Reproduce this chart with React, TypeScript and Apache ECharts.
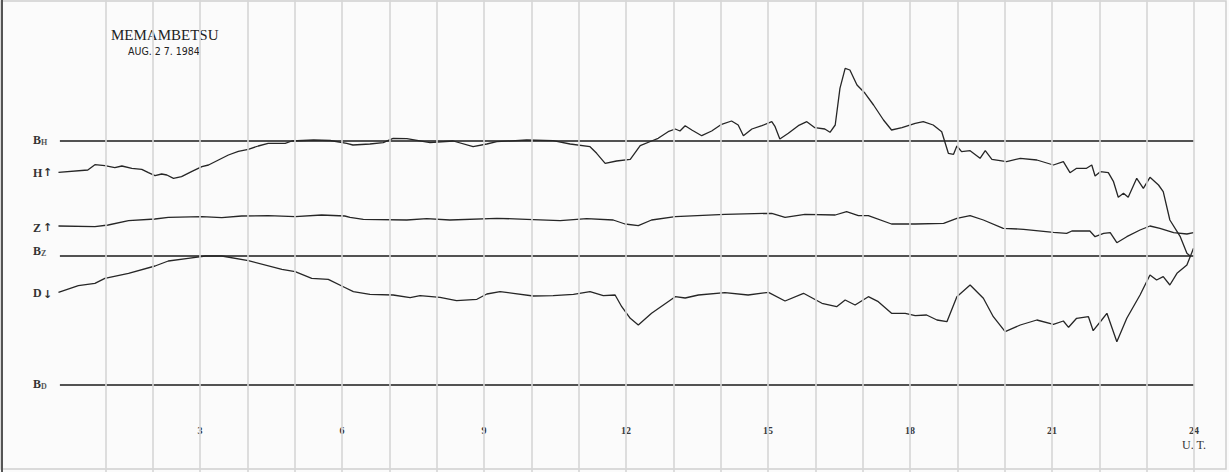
import React, { useEffect, useRef } from "react";
import * as echarts from "echarts";

// Hours (UT) and deflections (chart units, positive = upward, relative to each trace's baseline)
const hH = [0.01,0.63,0.78,0.99,1.2,1.35,1.56,1.77,1.91,2.05,2.19,2.3,2.44,2.61,2.82,3.04,3.18,3.39,3.6,3.81,4.02,4.23,4.44,4.8,4.94,5.4,5.75,6.1,6.23,6.59,6.87,7.08,7.37,7.86,8.35,8.77,9.06,9.27,9.9,10.46,10.82,11.24,11.38,11.56,11.8,12.09,12.3,12.54,12.68,12.89,13.04,13.14,13.25,13.39,13.6,13.81,14.02,14.23,14.37,14.48,14.66,14.87,15.08,15.15,15.25,15.43,15.64,15.82,15.99,16.2,16.31,16.42,16.52,16.63,16.73,16.88,17.05,17.23,17.44,17.61,17.83,18.11,18.28,18.49,18.67,18.81,18.92,18.99,19.09,19.27,19.48,19.59,19.73,20.04,20.33,20.68,21.03,21.24,21.38,21.52,21.73,21.84,21.91,22.02,22.19,22.3,22.4,22.51,22.61,22.79,22.93,23.07,23.25,23.35,23.49,23.71,23.85,23.92];
const vH = [-31.3,-29,-23.7,-24.7,-26.7,-25,-27.3,-28.3,-31.7,-34.7,-33,-34,-37.3,-35.7,-30.7,-25.7,-24,-19,-14,-10.3,-8.3,-5,-2.3,-2.3,0,1,0.5,-2.3,-4,-3,-1.7,2.7,2.3,-1.7,0,-5.7,-3,-0.7,1,0.3,-3,-5.7,-12.3,-22.3,-20,-18.3,-4.7,0,2.7,9.3,12,10,15.3,11,5.3,10,16.7,20,16,5.3,12,15.3,19.3,14.3,2,7.7,15.3,19.3,13.3,12,8.7,16,52.7,72.7,71,56,47.7,36,21,11,13.3,17.7,19.3,16,9.3,-12.3,-13.3,-5,-10.7,-9.7,-17.3,-9.7,-18.3,-20.7,-17.3,-19,-24,-20.7,-31.7,-27.3,-27.3,-24,-35,-30.7,-31.7,-40.7,-56.3,-52.3,-56.3,-37.3,-47.3,-36.3,-44,-50.7,-79,-95.7,-112.3,-115];

const hZ = [0.01,0.78,1.06,1.49,2.05,2.33,3.04,3.46,3.88,4.44,5.01,5.57,6.06,6.17,6.45,7.37,7.79,8.28,9.27,9.9,10.61,11.17,11.73,11.98,12.26,12.54,13.04,14.09,15.08,15.36,15.78,16.42,16.66,16.91,17.12,17.61,18.11,18.71,18.99,19.27,19.55,19.97,20.4,21.03,21.31,21.42,21.8,21.91,22.09,22.23,22.37,22.58,22.86,23.07,23.28,23.57,23.85,23.99];
const vZ = [30,29.3,31,35.3,37,38.7,39.3,38.3,40,40.3,39.3,41,40,38.7,36.7,36,37.3,36,37.7,36.7,35.3,37.3,36,32,30.3,36,39.3,41.7,42.7,38.7,41.7,41,44.3,40.3,40.3,32,32,32.7,37.7,40.3,36,27.7,26.7,23.7,22.7,25,25,19.3,22.7,23.3,13.3,19.3,26,30,27.7,23.3,22,23.3];

const hD = [0.01,0.43,0.78,0.99,1.49,2.05,2.33,2.75,3.11,3.46,4.02,4.73,5.01,5.36,5.71,6.06,6.24,6.59,7.08,7.44,7.65,8.07,8.42,8.85,9.06,9.34,9.62,10.04,10.46,10.89,11.24,11.52,11.77,11.91,12.09,12.26,12.54,13.04,13.25,13.53,14.09,14.58,15.01,15.36,15.75,16.14,16.45,16.63,16.84,17.12,17.33,17.61,17.9,18.11,18.35,18.57,18.78,18.99,19.27,19.55,19.76,20.01,20.33,20.68,21.03,21.24,21.35,21.52,21.77,21.87,22.05,22.16,22.37,22.58,22.86,23.07,23.21,23.35,23.49,23.64,23.85,23.99];
const vD = [92.7,99.3,101.7,106.7,111.7,119,124,126.7,129,129,124.3,115.7,113.3,106.7,105.7,97.5,93.3,90.7,90,87.3,89.3,87.7,84.3,85.7,91,93.3,91.7,89,89.3,90.7,93.3,89.3,90,78.3,66.7,60,71.7,88.3,87,90,92.3,90,92.7,84,91.7,81.7,78.3,85,80,88.3,83.3,71.7,71.7,69.3,70,65,63.3,88.3,100,86.7,68.3,53.3,60,65,60.7,64,57.7,66.7,68.3,54.3,65,71.7,43.3,66.7,90,110,105,108.3,100,111.7,120,136.7];

// Baseline levels (chart units from the bottom of the sheet)
const baseH = 331;
const baseZ = 216;
const baseD = 87;
const hourTicks = [3, 6, 9, 12, 15, 18, 21, 24];
const hourLines = [1,2,3,4,5,6,7,8,9,10,11,12,13,14,15,16,17,18,19,20,21,22,23,24];

export default function App() {
  const ref = useRef<HTMLDivElement>(null);
  useEffect(() => {
    document.body.style.margin = "0";
    const chart = echarts.init(ref.current!, null, { renderer: "svg" });
    const trace = (hs: number[], vs: number[], base: number) =>
      hs.map((h, i) => [h, base + vs[i]]);
    const lineStyle = { color: "#262626", width: 1.3 };
    const baseLine = (b: number) => ({
      type: "line",
      data: [[0.04, b], [24, b]],
      showSymbol: false,
      silent: true,
      z: 3,
      lineStyle: { color: "#1a1a1a", width: 1.5 },
    });
    const serif = "'Liberation Serif', 'DejaVu Serif', serif";
    const sideLabel = (main: string, sub: string, x: number, y: number) => ({
      type: "text",
      x,
      y,
      style: {
        text: sub ? `{m|${main}}{s|${sub}}` : `{m|${main}}`,
        rich: {
          m: { fontFamily: serif, fontSize: 12, fontWeight: "bold", fill: "#333" },
          s: { fontFamily: serif, fontSize: 8, fontWeight: "bold", fill: "#555", padding: [4, 0, 0, 0] },
        },
        verticalAlign: "middle",
      },
    });
    chart.setOption({
      animation: false,
      backgroundColor: "#fbfbfb",
      grid: { left: 58, right: 35, top: 0, bottom: 0 },
      xAxis: {
        type: "value",
        min: 0,
        max: 24,
        interval: 1,
        axisLine: { show: false },
        axisTick: { show: false },
        splitLine: { show: false },
        axisLabel: {
          inside: true,
          margin: 37,
          fontFamily: serif,
          fontSize: 10,
          fontWeight: "bold",
          color: "#3a3a3a",
          formatter: (v: number) => (hourTicks.includes(v) ? String(v) : ""),
        },
      },
      yAxis: {
        type: "value",
        min: 0,
        max: 472,
        show: false,
      },
      series: [
        {
          type: "line",
          data: [],
          markLine: {
            silent: true,
            symbol: "none",
            label: { show: false },
            lineStyle: { type: "solid", color: "#d6d6d6", width: 1.6 },
            data: hourLines.map((h) => ({ xAxis: h })),
          },
        },
        baseLine(baseH),
        baseLine(baseZ),
        baseLine(baseD),
        { type: "line", data: trace(hH, vH, baseH), showSymbol: false, lineStyle, z: 4 },
        { type: "line", data: trace(hZ, vZ, baseZ), showSymbol: false, lineStyle, z: 4 },
        { type: "line", data: trace(hD, vD, baseD), showSymbol: false, lineStyle, z: 4 },
      ],
      graphic: [
        { type: "rect", shape: { x: 1, y: 1, width: 1225, height: 468 }, style: { fill: "none", stroke: "#cfcfcf", lineWidth: 1.5 } },
        { type: "line", shape: { x1: 2, y1: 0, x2: 2, y2: 472 }, style: { stroke: "#555", lineWidth: 2 } },
        { type: "text", x: 111, y: 35, style: { text: "MEMAMBETSU", fontFamily: serif, fontSize: 15, fill: "#222", verticalAlign: "middle" } },
        { type: "text", x: 128, y: 51, style: { text: "AUG. 2 7. 1984", fontFamily: "'DejaVu Sans Condensed', 'Liberation Sans Narrow', 'Liberation Sans', sans-serif", fontSize: 10.5, fill: "#222", verticalAlign: "middle" } },
        sideLabel("B", "H", 33, 140),
        sideLabel("H", "", 33, 173),
        sideLabel("Z", "", 33, 228),
        sideLabel("B", "Z", 33, 251),
        sideLabel("D", "", 33, 293),
        sideLabel("B", "D", 33, 384),
        { type: "text", x: 43, y: 172, style: { text: "↑", fontFamily: "'DejaVu Sans', sans-serif", fontSize: 11, fontWeight: "bold", fill: "#333", verticalAlign: "middle" } },
        { type: "text", x: 43, y: 227, style: { text: "↑", fontFamily: "'DejaVu Sans', sans-serif", fontSize: 11, fontWeight: "bold", fill: "#333", verticalAlign: "middle" } },
        { type: "text", x: 43, y: 294, style: { text: "↓", fontFamily: "'DejaVu Sans', sans-serif", fontSize: 11, fontWeight: "bold", fill: "#333", verticalAlign: "middle" } },
        { type: "text", x: 1194, y: 445, style: { text: "U. T.", fontFamily: serif, fontSize: 12, fill: "#333", align: "center", verticalAlign: "middle" } },
      ],
    });
    return () => chart.dispose();
  }, []);
  return <div ref={ref} style={{ width: 1229, height: 472 }} />;
}
